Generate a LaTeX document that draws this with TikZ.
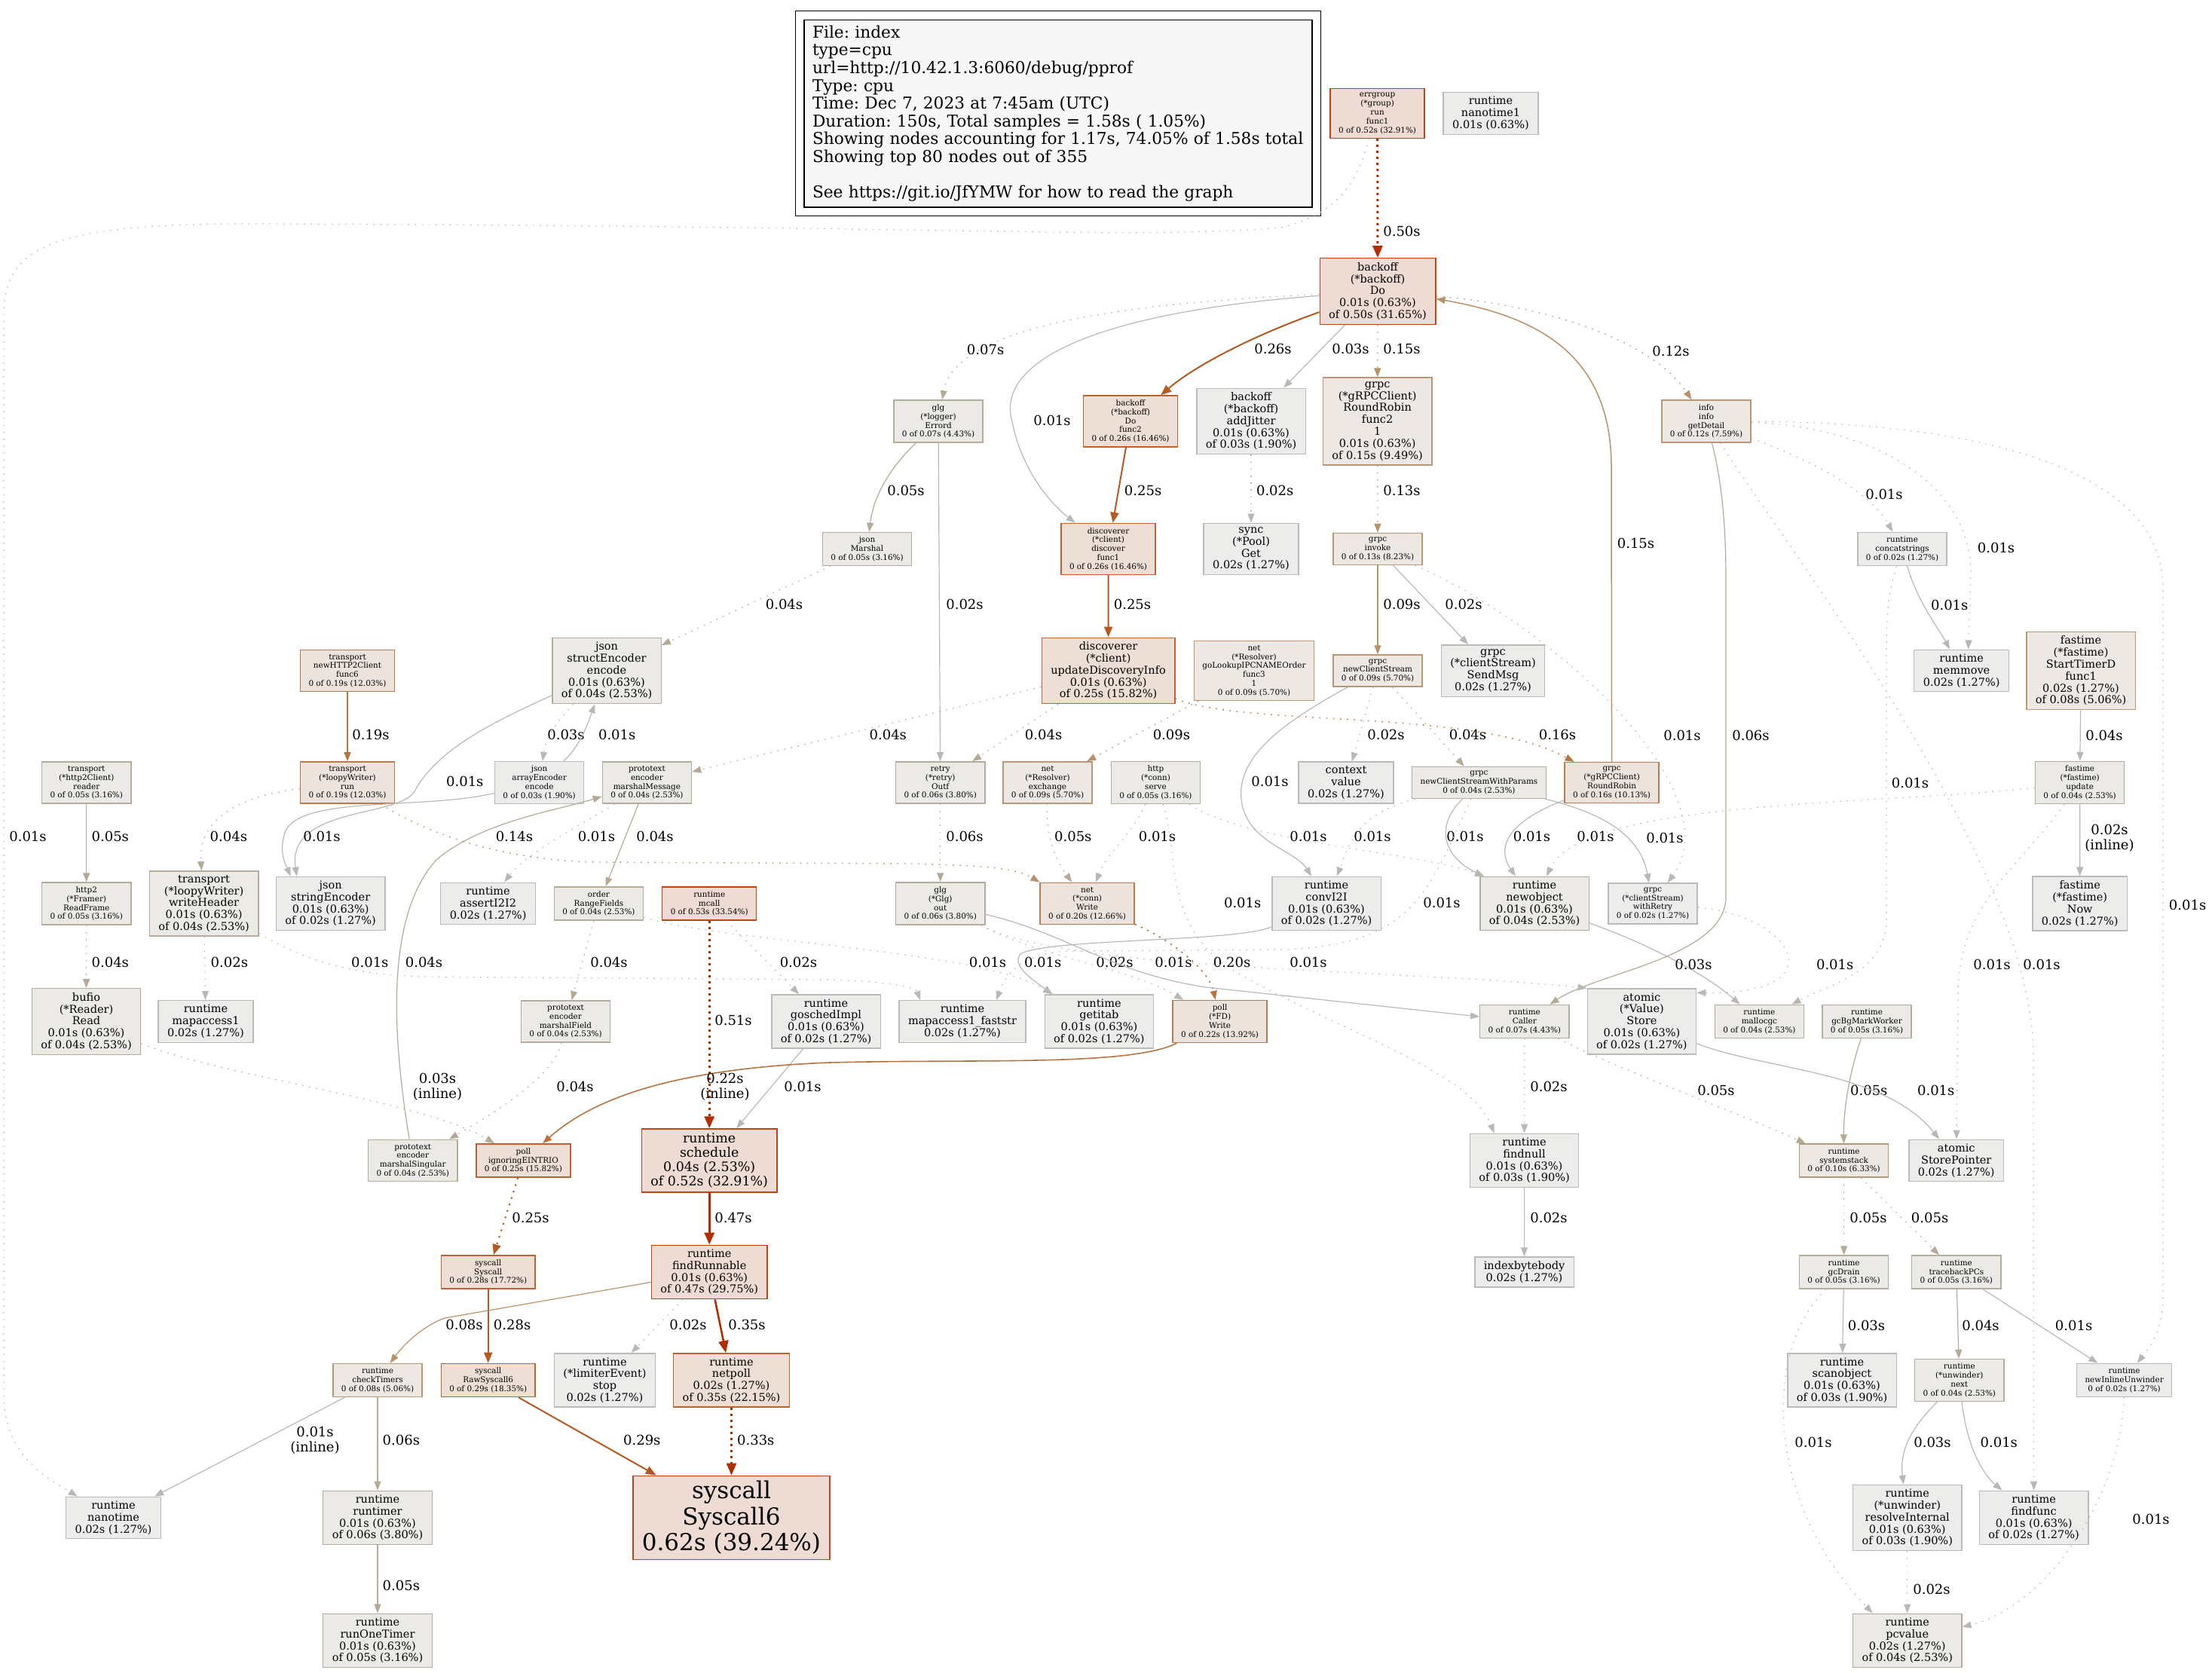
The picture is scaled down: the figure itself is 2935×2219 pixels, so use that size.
\documentclass[tikz,border=0pt]{standalone}
\usepackage{fontspec}
\setmainfont{DejaVu Serif}
\usetikzlibrary{arrows.meta}

\definecolor{nf1}{RGB}{237,219,212}
\definecolor{nd1}{RGB}{190,68,22}
\definecolor{nf2}{RGB}{237,222,214}
\definecolor{nd2}{RGB}{190,98,48}
\definecolor{nf3}{RGB}{237,227,221}
\definecolor{nd3}{RGB}{186,122,76}
\definecolor{nf4}{RGB}{237,232,227}
\definecolor{nd4}{RGB}{182,152,118}
\definecolor{nf5}{RGB}{236,234,231}
\definecolor{nd5}{RGB}{182,172,155}
\definecolor{nf6}{RGB}{236,236,235}
\definecolor{nd6}{RGB}{186,186,184}
\definecolor{ec1}{RGB}{178,46,0}
\definecolor{ec2}{RGB}{182,88,32}
\definecolor{ec3}{RGB}{184,115,62}
\definecolor{ec4}{RGB}{184,145,105}
\definecolor{ec5}{RGB}{182,170,150}
\definecolor{ec6}{RGB}{184,184,180}
\definecolor{legfill}{RGB}{247,247,247}

\begin{document}
\frenchspacing
\begin{tikzpicture}[x=1pt, y=-1pt,
    box/.style={rectangle, draw, align=center, line width=1.4pt},
    sm/.style={box, font=\fontsize{10.4}{11.8}\selectfont, inner xsep=11pt, inner ysep=5.6pt},
    md/.style={box, font=\fontsize{14.5}{15.8}\selectfont, inner xsep=12pt, inner ysep=5.5pt},
    bg/.style={box, font=\fontsize{17.4}{19}\selectfont, inner xsep=12pt, inner ysep=5.8pt},
    hg/.style={box, font=\fontsize{31}{34.5}\selectfont, inner xsep=12pt, inner ysep=7pt},
    n1/.style={fill=nf1, draw=nd1},
    n2/.style={fill=nf2, draw=nd2},
    n3/.style={fill=nf3, draw=nd3},
    n4/.style={fill=nf4, draw=nd4},
    n5/.style={fill=nf5, draw=nd5},
    n6/.style={fill=nf6, draw=nd6},
    lab/.style={font=\fontsize{18}{20.5}\selectfont, inner sep=0pt, align=center},
    ar/.style={-{Triangle[length=12pt,width=9pt]}, line width=1.2pt},
    arm/.style={-{Triangle[length=14pt,width=11pt]}, line width=2pt},
    arb/.style={-{Triangle[length=16pt,width=13pt]}, line width=3pt},
    dts/.style={dash pattern=on 1.6pt off 7.6pt},
    dtm/.style={dash pattern=on 2.2pt off 6.8pt},
    dtb/.style={dash pattern=on 3pt off 5pt},
    e1/.style={draw=ec1}, e2/.style={draw=ec2}, e3/.style={draw=ec3},
    e4/.style={draw=ec4}, e5/.style={draw=ec5}, e6/.style={draw=ec6}
]
\useasboundingbox (0,0) rectangle (2935,2219);

% legend
\node[draw=black, line width=1.4pt, fill=legfill, minimum width=674pt, minimum height=248.6pt,
      inner sep=0pt, text width=652pt, align=left, font=\fontsize{21.7}{23.6}\selectfont]
      (legend) at (1404,150.7) {File: index\\type=cpu\\url=http://10.42.1.3:6060/debug/pprof\\Type: cpu\\Time: Dec 7, 2023 at 7:45am (UTC)\\Duration: 150s, Total samples = 1.58s ( 1.05\%)\\Showing nodes accounting for 1.17s, 74.05\% of 1.58s total\\Showing top 80 nodes out of 355\\[23.6pt]See https://git.io/JfYMW for how to read the graph};
\draw[black, line width=1.4pt] ([shift={(-11,11)}]legend.south west) rectangle ([shift={(11,-11)}]legend.north east);

% nodes, rank by rank
\node[sm, n1] (errgrp) at (1827.6,150.5) {errgroup\\(*group)\\run\\func1\\0 of 0.52s (32.91\%)};
\node[md, n6] (ntime1) at (1978,150.5) {runtime\\nanotime1\\0.01s (0.63\%)};

\node[md, n1] (bdo) at (1828,386.5) {backoff\\(*backoff)\\Do\\0.01s (0.63\%)\\of 0.50s (31.65\%)};

\node[sm, n5] (glgE) at (1245,559) {glg\\(*logger)\\Errord\\0 of 0.07s (4.43\%)};
\node[sm, n2] (bf2) at (1500,559) {backoff\\(*backoff)\\Do\\func2\\0 of 0.26s (16.46\%)};
\node[md, n6] (jitter) at (1660,559) {backoff\\(*backoff)\\addJitter\\0.01s (0.63\%)\\of 0.03s (1.90\%)};
\node[md, n4] (rrf2) at (1827.6,559) {grpc\\(*gRPCClient)\\RoundRobin\\func2\\1\\0.01s (0.63\%)\\of 0.15s (9.49\%)};
\node[sm, n4] (info) at (2264,559) {info\\info\\getDetail\\0 of 0.12s (7.59\%)};

\node[sm, n5] (jsonM) at (1150.5,728.5) {json\\Marshal\\0 of 0.05s (3.16\%)};
\node[sm, n2] (dfunc1) at (1470.5,728.5) {discoverer\\(*client)\\discover\\func1\\0 of 0.26s (16.46\%)};
\node[md, n6] (poolget) at (1660,728.5) {sync\\(*Pool)\\Get\\0.02s (1.27\%)};
\node[sm, n4] (invoke) at (1828,728.5) {grpc\\invoke\\0 of 0.13s (8.23\%)};
\node[sm, n6] (concat) at (2524,728.5) {runtime\\concatstrings\\0 of 0.02s (1.27\%)};

\node[sm, n3] (func6) at (461,890) {transport\\newHTTP2Client\\func6\\0 of 0.19s (12.03\%)};
\node[md, n5] (jse) at (805,890) {json\\structEncoder\\encode\\0.01s (0.63\%)\\of 0.04s (2.53\%)};
\node[md, n2] (upd) at (1470.6,890) {discoverer\\(*client)\\updateDiscoveryInfo\\0.01s (0.63\%)\\of 0.25s (15.82\%)};
\node[sm, n4] (golookup) at (1664,890) {net\\(*Resolver)\\goLookupIPCNAMEOrder\\func3\\1\\0 of 0.09s (5.70\%)};
\node[sm, n4] (ncs) at (1828,890) {grpc\\newClientStream\\0 of 0.09s (5.70\%)};
\node[md, n6] (sendmsg) at (1981,890) {grpc\\(*clientStream)\\SendMsg\\0.02s (1.27\%)};
\node[md, n6] (memmove) at (2602.6,890) {runtime\\memmove\\0.02s (1.27\%)};
\node[md, n4] (timerd) at (2761,890) {fastime\\(*fastime)\\StartTimerD\\func1\\0.02s (1.27\%)\\of 0.08s (5.06\%)};

\node[sm, n5] (reader) at (114.7,1038.5) {transport\\(*http2Client)\\reader\\0 of 0.05s (3.16\%)};
\node[sm, n3] (run) at (461,1038.5) {transport\\(*loopyWriter)\\run\\0 of 0.19s (12.03\%)};
\node[sm, n6] (jae) at (715.6,1038.5) {json\\arrayEncoder\\encode\\0 of 0.03s (1.90\%)};
\node[sm, n5] (pmm) at (858.4,1038.5) {prototext\\encoder\\marshalMessage\\0 of 0.04s (2.53\%)};
\node[sm, n5] (retry) at (1247.7,1038.5) {retry\\(*retry)\\Outf\\0 of 0.06s (3.80\%)};
\node[sm, n4] (exch) at (1390,1038.5) {net\\(*Resolver)\\exchange\\0 of 0.09s (5.70\%)};
\node[sm, n5] (serve) at (1533.4,1038.5) {http\\(*conn)\\serve\\0 of 0.05s (3.16\%)};
\node[md, n6] (ctxval) at (1786,1038.5) {context\\value\\0.02s (1.27\%)};
\node[sm, n5] (ncsp) at (1962.4,1038.5) {grpc\\newClientStreamWithParams\\0 of 0.04s (2.53\%)};
\node[sm, n3] (grr) at (2138.6,1038.5) {grpc\\(*gRPCClient)\\RoundRobin\\0 of 0.16s (10.13\%)};
\node[sm, n5] (fupd) at (2759.6,1038.5) {fastime\\(*fastime)\\update\\0 of 0.04s (2.53\%)};

\node[sm, n5] (frame) at (114.7,1199) {http2\\(*Framer)\\ReadFrame\\0 of 0.05s (3.16\%)};
\node[md, n5] (whdr) at (270.6,1199) {transport\\(*loopyWriter)\\writeHeader\\0.01s (0.63\%)\\of 0.04s (2.53\%)};
\node[md, n6] (jsenc) at (438.7,1199) {json\\stringEncoder\\0.01s (0.63\%)\\of 0.02s (1.27\%)};
\node[md, n6] (assert) at (647.6,1199) {runtime\\assertI2I2\\0.02s (1.27\%)};
\node[sm, n5] (rfields) at (794.4,1199) {order\\RangeFields\\0 of 0.04s (2.53\%)};
\node[sm, n1] (mcall) at (941.2,1199) {runtime\\mcall\\0 of 0.53s (33.54\%)};
\node[sm, n5] (glgo) at (1247.7,1199) {glg\\(*Glg)\\out\\0 of 0.06s (3.80\%)};
\node[sm, n3] (cw) at (1442.6,1199) {net\\(*conn)\\Write\\0 of 0.20s (12.66\%)};
\node[md, n6] (convi) at (1760,1199) {runtime\\convI2I\\0.01s (0.63\%)\\of 0.02s (1.27\%)};
\node[md, n5] (newobj) at (2036,1199) {runtime\\newobject\\0.01s (0.63\%)\\of 0.04s (2.53\%)};
\node[sm, n6] (wretry) at (2193,1199) {grpc\\(*clientStream)\\withRetry\\0 of 0.02s (1.27\%)};
\node[md, n6] (fnow) at (2759.7,1199) {fastime\\(*fastime)\\Now\\0.02s (1.27\%)};

\node[md, n5] (bread) at (114.5,1355.5) {bufio\\(*Reader)\\Read\\0.01s (0.63\%)\\of 0.04s (2.53\%)};
\node[md, n6] (mapacc) at (273,1355.5) {runtime\\mapaccess1\\0.02s (1.27\%)};
\node[sm, n5] (mfield) at (750.5,1355.5) {prototext\\encoder\\marshalField\\0 of 0.04s (2.53\%)};
\node[md, n6] (gosched) at (1096,1355.5) {runtime\\goschedImpl\\0.01s (0.63\%)\\of 0.02s (1.27\%)};
\node[md, n6] (mfs) at (1277,1355.5) {runtime\\mapaccess1\_faststr\\0.02s (1.27\%)};
\node[md, n6] (getitab) at (1458.4,1355.5) {runtime\\getitab\\0.01s (0.63\%)\\of 0.02s (1.27\%)};
\node[sm, n3] (fdw) at (1618.6,1355.5) {poll\\(*FD)\\Write\\0 of 0.22s (13.92\%)};
\node[sm, n5] (caller) at (2022.8,1355.5) {runtime\\Caller\\0 of 0.07s (4.43\%)};
\node[md, n6] (avs) at (2178.4,1355.5) {atomic\\(*Value)\\Store\\0.01s (0.63\%)\\of 0.02s (1.27\%)};
\node[sm, n5] (malloc) at (2334.4,1355.5) {runtime\\mallocgc\\0 of 0.04s (2.53\%)};
\node[sm, n5] (gcbg) at (2477,1355.5) {runtime\\gcBgMarkWorker\\0 of 0.05s (3.16\%)};

\node[sm, n5] (msing) at (547.7,1540) {prototext\\encoder\\marshalSingular\\0 of 0.04s (2.53\%)};
\node[sm, n2] (eintr) at (694.4,1540) {poll\\ignoringEINTRIO\\0 of 0.25s (15.82\%)};
\node[bg, n1] (sched) at (941.2,1540) {runtime\\schedule\\0.04s (2.53\%)\\of 0.52s (32.91\%)};
\node[md, n6] (findnull) at (2022.5,1540) {runtime\\findnull\\0.01s (0.63\%)\\of 0.03s (1.90\%)};
\node[sm, n4] (sysstack) at (2446.6,1540) {runtime\\systemstack\\0 of 0.10s (6.33\%)};
\node[md, n6] (storep) at (2595.7,1540) {atomic\\StorePointer\\0.02s (1.27\%)};

\node[sm, n2] (syscall) at (647.7,1688) {syscall\\Syscall\\0 of 0.28s (17.72\%)};
\node[md, n1] (frun) at (941.2,1688) {runtime\\findRunnable\\0.01s (0.63\%)\\of 0.47s (29.75\%)};
\node[md, n6] (ibb) at (2022.5,1688) {indexbytebody\\0.02s (1.27\%)};
\node[sm, n5] (gcdrain) at (2446.6,1688) {runtime\\gcDrain\\0 of 0.05s (3.16\%)};
\node[sm, n5] (tpcs) at (2595.8,1688) {runtime\\tracebackPCs\\0 of 0.05s (3.16\%)};

\node[sm, n4] (ctimers) at (501,1831.5) {runtime\\checkTimers\\0 of 0.08s (5.06\%)};
\node[sm, n2] (raw6) at (647.7,1831.5) {syscall\\RawSyscall6\\0 of 0.29s (18.35\%)};
\node[md, n6] (limiter) at (802.5,1831.5) {runtime\\(*limiterEvent)\\stop\\0.02s (1.27\%)};
\node[md, n2] (netpoll) at (970.5,1831.5) {runtime\\netpoll\\0.02s (1.27\%)\\of 0.35s (22.15\%)};
\node[md, n6] (scanobj) at (2444,1831.5) {runtime\\scanobject\\0.01s (0.63\%)\\of 0.03s (1.90\%)};
\node[sm, n5] (unext) at (2599.8,1831.5) {runtime\\(*unwinder)\\next\\0 of 0.04s (2.53\%)};
\node[sm, n6] (inlunw) at (2818.6,1831.5) {runtime\\newInlineUnwinder\\0 of 0.02s (1.27\%)};

\node[md, n6] (nanot) at (150.5,2014) {runtime\\nanotime\\0.02s (1.27\%)};
\node[md, n5] (rtimer) at (501,2014) {runtime\\runtimer\\0.01s (0.63\%)\\of 0.06s (3.80\%)};
\node[hg, n1] (sys6) at (970.5,2014) {syscall\\Syscall6\\0.62s (39.24\%)};
\node[md, n6] (resolve) at (2530.7,2014) {runtime\\(*unwinder)\\resolveInternal\\0.01s (0.63\%)\\of 0.03s (1.90\%)};
\node[md, n6] (ffunc) at (2698.6,2014) {runtime\\findfunc\\0.01s (0.63\%)\\of 0.02s (1.27\%)};

\node[md, n5] (onetimer) at (501,2177) {runtime\\runOneTimer\\0.01s (0.63\%)\\of 0.05s (3.16\%)};
\node[md, n5] (pcvalue) at (2530.7,2177) {runtime\\pcvalue\\0.02s (1.27\%)\\of 0.04s (2.53\%)};

% edges, top part
\draw[arb, dtb, e1] (errgrp) -- (bdo);
\node[lab] (l01) at (1860,307) {0.50s};
\draw[ar, dts, e6] (errgrp) .. controls (1800,240) and (1780,282) .. (1700,302) .. controls (1500,318) and (1300,300) .. (330,297) .. controls (60,297) and (5,330) .. (5,420) -- (5,1850) .. controls (5,1930) and (60,1960) .. (nanot);
\node[lab] (l02) at (37,1109.6) {0.01s};
\draw[ar, dts, e5] (bdo) .. controls (1560,400) and (1270,420) .. (glgE);
\node[lab] (l03) at (1307.6,464) {0.07s};
\draw[ar, e6] (bdo) .. controls (1450,415) and (1320,480) .. (1343,560) .. controls (1355,620) and (1390,665) .. (dfunc1);
\node[lab] (l04) at (1396,558) {0.01s};
\draw[arm, e2] (bdo) .. controls (1650,450) and (1580,490) .. (bf2);
\node[lab] (l05) at (1689,463) {0.26s};
\draw[ar, e6] (bdo) -- (jitter);
\node[lab] (l06) at (1792,463) {0.03s};
\draw[ar, dts, e4] (bdo) -- (rrf2);
\node[lab] (l07) at (1860,463) {0.15s};
\draw[ar, dts, e4] (bdo) .. controls (2050,405) and (2190,450) .. (info);
\node[lab] (l08) at (2217,466) {0.12s};
\draw[ar, e4, line width=1.5pt] (grr) -- (2138,620) .. controls (2138,470) and (2040,420) .. ([yshift=-10pt]bdo.east);
\node[lab] (l09) at (2170.5,721) {0.15s};
\draw[arm, e2] (bf2) -- (dfunc1);
\node[lab] (l10) at (1516.6,651) {0.25s};
\draw[ar, dts, e6] (jitter) -- (poolget);
\node[lab] (l11) at (1691.7,651) {0.02s};
\draw[ar, dts, e4] (rrf2) -- (invoke);
\node[lab] (l12) at (1860,651) {0.13s};
\draw[arm, e2] (dfunc1) -- (upd);
\node[lab] (l13) at (1502.5,802) {0.25s};
\draw[ar, e5] (glgE) .. controls (1190,612) and (1160,650) .. (jsonM);
\node[lab] (l14) at (1202,651) {0.05s};
\draw[ar, e6] (glgE) -- (retry);
\node[lab] (l15) at (1280,802) {0.02s};
\draw[ar, dts, e5] (jsonM) -- (jse);
\node[lab] (l16) at (1040.5,802) {0.04s};
\draw[ar, e4] (invoke) -- (ncs);
\node[lab] (l17) at (1860,802) {0.09s};
\draw[ar, e6] (invoke) -- (sendmsg);
\node[lab] (l18) at (1942,802) {0.02s};
\draw[ar, dts, e6] (invoke) .. controls (2060,830) and (2300,1050) .. (wretry);
\node[lab] (l19) at (2232,976) {0.01s};

% edges from info and fastime
\draw[ar, e5] (info) .. controls (2285,640) and (2290,700) .. (2290,770) -- (2290,1190) .. controls (2290,1270) and (2120,1290) .. (caller);
\node[lab] (l20) at (2323,976) {0.06s};
\draw[ar, dts, e6] (info) .. controls (2400,610) and (2480,650) .. (concat);
\node[lab] (l21) at (2500,655.6) {0.01s};
\draw[ar, dts, e6] (info) .. controls (2480,565) and (2615,640) .. (2615,760) -- ([xshift=9pt]memmove.north);
\node[lab] (l22) at (2648.5,727) {0.01s};
\draw[ar, dts, e6] (info) .. controls (2620,560) and (2870,620) .. (2870,780) -- (2870,1720) .. controls (2870,1770) and (2850,1790) .. (inlunw);
\node[lab] (l23) at (2902.6,1200.8) {0.01s};
\draw[ar, dts, e6] (info) .. controls (2380,740) and (2698,1150) .. (2698,1400) -- (ffunc);
\node[lab] (l24) at (2709,1280) {0.01s};
\draw[ar, e6] (concat) .. controls (2545,800) and (2570,830) .. (memmove);
\node[lab] (l25) at (2586.7,802.7) {0.01s};
\draw[ar, dts, e6] (concat) .. controls (2504,790) and (2503,820) .. (2503,880) -- (2503,1220) .. controls (2503,1290) and (2430,1305) .. (malloc);
\node[lab] (l26) at (2534.5,1039) {0.01s};
\draw[ar, e6] (timerd) -- (fupd);
\node[lab] (l27) at (2792,976) {0.04s};
\draw[ar, e6] (fupd) -- (fnow);
\node[lab] (l28) at (2799,1112) {0.02s\\(inline)};
\draw[ar, dts, e6] (fupd) .. controls (2500,1068) and (2100,1060) .. ([xshift=16pt]newobj.north);
\node[lab] (l29) at (2117,1109.6) {0.01s};
\draw[ar, dts, e6] (fupd) .. controls (2680,1150) and (2598,1200) .. (2598,1320) -- (storep);
\node[lab] (l30) at (2643,1280) {0.01s};
\draw[ar, dts, e6] (caller) -- (findnull);
\node[lab] (l31) at (2055,1442) {0.02s};
\draw[ar, dts, e5] (caller) .. controls (2150,1420) and (2290,1470) .. (sysstack);
\node[lab] (l32) at (2277,1446.5) {0.05s};
\draw[ar, e5] (gcbg) .. controls (2455,1420) and (2446,1470) .. (sysstack);
\node[lab] (l33) at (2479.8,1446.5) {0.05s};
\draw[ar, e6] (avs) .. controls (2340,1420) and (2500,1420) .. (storep);
\node[lab] (l34) at (2568.7,1446.5) {0.01s};
\draw[ar, e6] (newobj) .. controls (2180,1250) and (2260,1290) .. (malloc);
\node[lab] (l35) at (2247,1280) {0.03s};
\draw[ar, dts, e6] (wretry) .. controls (2380,1215) and (2440,1320) .. ([yshift=-6pt]avs.north east);
\node[lab] (l36) at (2434.7,1280) {0.01s};

% edges, grpc part
\draw[ar, e6] (grr) .. controls (2000,1090) and (1985,1125) .. (newobj);
\node[lab] (l37) at (2032.5,1109.6) {0.01s};
\draw[ar, dts, e3, line width=1.4pt] (upd) .. controls (1650,965) and (1960,940) .. (grr);
\node[lab] (l38) at (2066.5,974.5) {0.16s};
\draw[ar, dts, e5] (upd) -- (pmm);
\node[lab] (l39) at (1178.3,974.5) {0.04s};
\draw[ar, dts, e5] (upd) -- (retry);
\node[lab] (l40) at (1384.6,974.5) {0.04s};
\draw[ar, dts, e4] (golookup) -- (exch);
\node[lab] (l41) at (1554.4,974.5) {0.09s};
\draw[ar, e6] (ncs) .. controls (1700,960) and (1630,1010) .. (1650,1075) .. controls (1665,1120) and (1720,1130) .. ([xshift=-20pt]convi.north);
\node[lab] (l42) at (1685,1037) {0.01s};
\draw[ar, dts, e6] (ncs) -- (ctxval);
\node[lab] (l43) at (1839,974.5) {0.02s};
\draw[ar, dts, e5] (ncs) -- (ncsp);
\node[lab] (l44) at (1947.5,974.5) {0.04s};
\draw[ar, e6] (ncsp) .. controls (1900,1100) and (1920,1140) .. ([xshift=6pt]newobj.north west);
\node[lab] (l45) at (1944,1109.6) {0.01s};
\draw[ar, dts, e6] (ncsp) .. controls (1800,1080) and (1790,1120) .. (convi);
\node[lab] (l46) at (1821,1109.6) {0.01s};
\draw[ar, e6] (ncsp) .. controls (2110,1075) and (2175,1100) .. (wretry);
\node[lab] (l47) at (2209,1112) {0.01s};
\draw[ar, dts, e6] (ncsp) .. controls (1895,1180) and (1880,1255) .. (1700,1260) -- (1420,1262) .. controls (1360,1263) and (1335,1290) .. ([xshift=45pt]mfs.north);
\node[lab] (l48) at (1913,1197.6) {0.01s};
\draw[ar, dts, e6] (serve) .. controls (1500,1110) and (1470,1130) .. (cw);
\node[lab] (l49) at (1535.5,1109.6) {0.01s};
\draw[ar, dts, e6] (serve) .. controls (1565,1130) and (1540,1230) .. (1640,1290) .. controls (1780,1370) and (1950,1420) .. ([xshift=-40pt]findnull.north);
\node[lab] (l50) at (1648.7,1197.6) {0.01s};
\draw[ar, dts, e6] (serve) .. controls (1660,1120) and (1880,1130) .. ([xshift=6pt]newobj.north west);
\node[lab] (l51) at (1736,1109.6) {0.01s};
\draw[ar, e6] (convi) .. controls (1640,1250) and (1400,1245) .. (1355,1265) .. controls (1340,1280) and (1370,1300) .. ([xshift=-62pt]getitab.north);
\node[lab] (l52) at (1383.7,1276.6) {0.01s};
\draw[ar, dts, e6] (rfields) .. controls (960,1250) and (1300,1260) .. ([xshift=-62pt]getitab.north);
\node[lab] (l53) at (1310.5,1276.6) {0.01s};
\draw[ar, dts, e6] (whdr) .. controls (400,1270) and (450,1292) .. (560,1296) -- (1100,1300) .. controls (1180,1302) and (1215,1310) .. ([xshift=-56pt]mfs.north);
\node[lab] (l54) at (490.8,1276.6) {0.01s};

% edges, scheduler and network
\draw[ar, dts, e6] (mcall) -- (gosched);
\node[lab] (l55) at (1059.4,1276.6) {0.02s};
\draw[arb, dtb, e1] (mcall) -- (sched);
\node[lab] (l56) at (973,1353.5) {0.51s};
\draw[ar, e6] (gosched) -- (sched);
\node[lab] (l57) at (1065,1441.7) {0.01s};
\draw[ar, e3, line width=1.6pt] (fdw) .. controls (1500,1415) and (1300,1405) .. (1100,1410) .. controls (900,1418) and (790,1455) .. (eintr);
\node[lab] (l58) at (962,1442) {0.22s\\(inline)};
\draw[ar, dts, e5] (bread) .. controls (300,1430) and (560,1460) .. (eintr);
\node[lab] (l59) at (580.5,1442) {0.03s\\(inline)};
\draw[ar, dts, e5] (mfield) .. controls (735,1430) and (650,1480) .. (msing);
\node[lab] (l60) at (763,1441.7) {0.04s};
\draw[ar, e5] (msing) .. controls (525,1400) and (505,1220) .. (580,1140) .. controls (640,1090) and (740,1075) .. (pmm);
\node[lab] (l61) at (562.5,1276.6) {0.04s};
\draw[ar, dts, e5] (rfields) -- (mfield);
\node[lab] (l62) at (808,1276.6) {0.04s};
\draw[ar, e5] (pmm) -- (rfields);
\node[lab] (l63) at (869,1109.6) {0.04s};
\draw[ar, dts, e6] (pmm) .. controls (780,1090) and (700,1130) .. (assert);
\node[lab] (l64) at (791.4,1109.6) {0.01s};
\draw[ar, dts, e6] (jse) .. controls (745,950) and (725,975) .. (jae);
\node[lab] (l65) at (751,974.5) {0.03s};
\draw[ar, e6] (jae) .. controls (770,990) and (780,960) .. (jse);
\node[lab] (l66) at (818.7,974.5) {0.01s};
\draw[ar, e6] (jse) .. controls (650,960) and (580,995) .. (550,1050) .. controls (530,1085) and (380,1070) .. ([xshift=28pt]jsenc.north west);
\node[lab] (l67) at (616.8,1037) {0.01s};
\draw[ar, e6] (jae) .. controls (560,1075) and (395,1055) .. (378,1105) .. controls (370,1130) and (378,1145) .. ([xshift=20pt]jsenc.north west);
\node[lab] (l68) at (427,1109.6) {0.01s};
\draw[ar, e3, line width=1.6pt] (func6) -- (run);
\node[lab] (l69) at (492,974.5) {0.19s};
\draw[ar, dts, e5] (run) .. controls (330,1055) and (262,1080) .. (whdr);
\node[lab] (l70) at (303.4,1109.6) {0.04s};
\draw[ar, dts, e4, line width=1.4pt] (run) .. controls (580,1115) and (690,1144) .. (800,1144) -- (1200,1146) .. controls (1290,1148) and (1345,1150) .. (cw.north west);
\node[lab] (l71) at (682.4,1109.6) {0.14s};
\draw[ar, e5] (reader) -- (frame);
\node[lab] (l72) at (146.3,1109.6) {0.05s};
\draw[ar, dts, e5] (frame) -- (bread);
\node[lab] (l73) at (146.3,1276.6) {0.04s};
\draw[ar, dts, e6] (whdr) -- (mapacc);
\node[lab] (l74) at (304.4,1276.6) {0.02s};
\draw[ar, dts, e5] (retry) -- (glgo);
\node[lab] (l75) at (1280,1109.6) {0.06s};
\draw[ar, dts, e5] (exch) .. controls (1388,1110) and (1400,1140) .. (cw);
\node[lab] (l76) at (1423.8,1109.6) {0.05s};
\draw[ar, dtm, e3, line width=1.6pt] (cw) .. controls (1560,1250) and (1605,1290) .. (fdw);
\node[lab] (l77) at (1634.6,1276.6) {0.20s};
\draw[ar, dts, e6] (glgo) .. controls (1380,1270) and (1500,1285) .. (fdw);
\node[lab] (l78) at (1479,1276.6) {0.02s};
\draw[ar, e6] (glgo) .. controls (1420,1240) and (1470,1290) .. (1600,1310) -- (caller);
\node[lab] (l79) at (1557,1276.6) {0.01s};
\draw[ar, dts, e6] (glgo) .. controls (1420,1290) and (1850,1285) .. (avs.north west);
\node[lab] (l80) at (1736,1276.6) {0.01s};

% edges, bottom part
\draw[arb, e1] (sched) -- (frun);
\node[lab] (l81) at (973,1615.5) {0.47s};
\draw[arm, dtm, e2] (eintr) -- (syscall);
\node[lab] (l82) at (704,1615.5) {0.25s};
\draw[arm, e2] (syscall) -- (raw6);
\node[lab] (l83) at (679.6,1757.5) {0.28s};
\draw[ar, e4] (frun) -- (590,1749) .. controls (560,1760) and (535,1785) .. (ctimers);
\node[lab] (l84) at (616,1757.5) {0.08s};
\draw[ar, dts, e6] (frun) -- (limiter);
\node[lab] (l85) at (913,1757.5) {0.02s};
\draw[arb, e1, line width=2.6pt] (frun) -- (netpoll);
\node[lab] (l86) at (991,1757.5) {0.35s};
\draw[arb, dtb, e1, line width=2.6pt] (netpoll) -- (sys6);
\node[lab] (l87) at (1002.8,1911) {0.33s};
\draw[arm, e2] (raw6) -- (sys6);
\node[lab] (l88) at (851.8,1911) {0.29s};
\draw[ar, e6] (ctimers) -- (nanot);
\node[lab] (l89) at (418,1911) {0.01s\\(inline)};
\draw[ar, e5] (ctimers) -- (rtimer);
\node[lab] (l90) at (532.4,1911) {0.06s};
\draw[ar, e5] (rtimer) -- (onetimer);
\node[lab] (l91) at (532.4,2104.4) {0.05s};
\draw[ar, e6] (findnull) -- (ibb);
\node[lab] (l92) at (2055,1615.5) {0.02s};
\draw[ar, dts, e5] (sysstack) -- (gcdrain);
\node[lab] (l93) at (2479,1616) {0.05s};
\draw[ar, dts, e5] (sysstack) -- (tpcs);
\node[lab] (l94) at (2560.6,1616) {0.05s};
\draw[ar, e6] (gcdrain) -- (scanobj);
\node[lab] (l95) at (2476.5,1759) {0.03s};
\draw[ar, dts, e6] (gcdrain) .. controls (2340,1790) and (2340,1990) .. ([xshift=-46pt]pcvalue.north);
\node[lab] (l96) at (2406,1913.8) {0.01s};
\draw[ar, e5] (tpcs) -- (unext);
\node[lab] (l97) at (2628,1759) {0.04s};
\draw[ar, e6] (tpcs) -- (inlunw);
\node[lab] (l98) at (2751.6,1759) {0.01s};
\draw[ar, e6] (unext) .. controls (2530,1900) and (2521,1930) .. (resolve);
\node[lab] (l99) at (2564,1913.8) {0.03s};
\draw[ar, e6] (unext) .. controls (2610,1920) and (2630,1955) .. (ffunc);
\node[lab] (l100) at (2652.3,1913.8) {0.01s};
\draw[ar, dts, e6] (resolve) -- (pcvalue);
\node[lab] (l101) at (2563,2108.6) {0.02s};
\draw[ar, dts, e6] (inlunw) .. controls (2815,1980) and (2720,2130) .. (pcvalue);
\node[lab] (l102) at (2854,2016) {0.01s};

\end{tikzpicture}
\end{document}
